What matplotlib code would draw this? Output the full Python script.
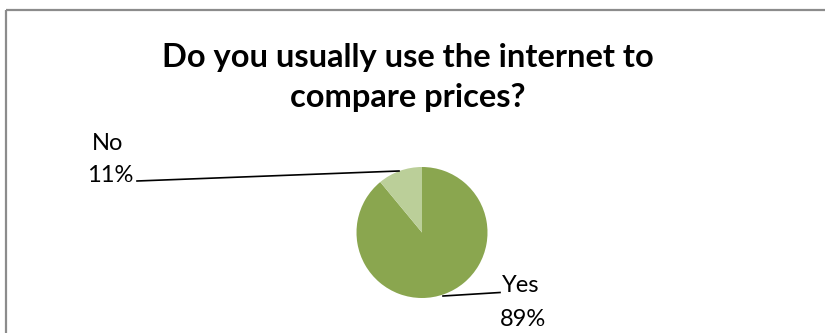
import matplotlib
matplotlib.use("Agg")
import matplotlib.pyplot as plt

# Survey answers
categories = ["Yes", "No"]
shares = [89, 11]
colors = ["#8AA64F", "#BBCF99"]
title_lines = ["Do you usually use the internet to", "compare prices?"]

W, H = 825, 333
fig = plt.figure(figsize=(W / 100, H / 100), dpi=100)
ax = fig.add_axes([0, 0, 1, 1])


def py(y):
    # convert top-down pixel row to axes y
    return H - y


cx, cy, r = 422, 232.5, 65.5
ax.pie(shares, colors=colors, startangle=90, counterclock=False,
       center=(cx, py(cy)), radius=r, wedgeprops=dict(linewidth=0))
ax.set_aspect("equal", adjustable="box")
ax.set_xlim(0, W)
ax.set_ylim(0, H)
ax.axis("off")

# chart frame: only its top and left edges fall inside the image
ax.plot([5.5, W + 20], [py(9.5), py(9.5)], color="#8C8C8C", lw=1.6,
        clip_on=False, solid_capstyle="butt")
ax.plot([5.5, 5.5], [py(9.5), py(H + 20)], color="#8C8C8C", lw=1.6,
        clip_on=False, solid_capstyle="butt")

ax.text(408, py(57), title_lines[0], ha="center", va="center",
        fontsize=23.5, fontweight="bold", family="Lato", color="black")
ax.text(408, py(98), title_lines[1], ha="center", va="center",
        fontsize=23.5, fontweight="bold", family="Lato", color="black")

lab_font = dict(fontsize=17, family="Lato", color="black", ha="center", va="center")

# No label and leader line
ax.text(108, py(143), categories[1], **lab_font)
ax.text(110, py(176), f"{shares[1]}%", **lab_font)
ax.plot([137, 399], [py(181), py(171)], color="black", lw=1.2)

# Yes label and leader line
ax.text(521, py(286), categories[0], **lab_font)
ax.text(523, py(320), f"{shares[0]}%", **lab_font)
ax.plot([443, 500], [py(296), py(292.5)], color="black", lw=1.2)

fig.savefig("out.png", dpi=100)
